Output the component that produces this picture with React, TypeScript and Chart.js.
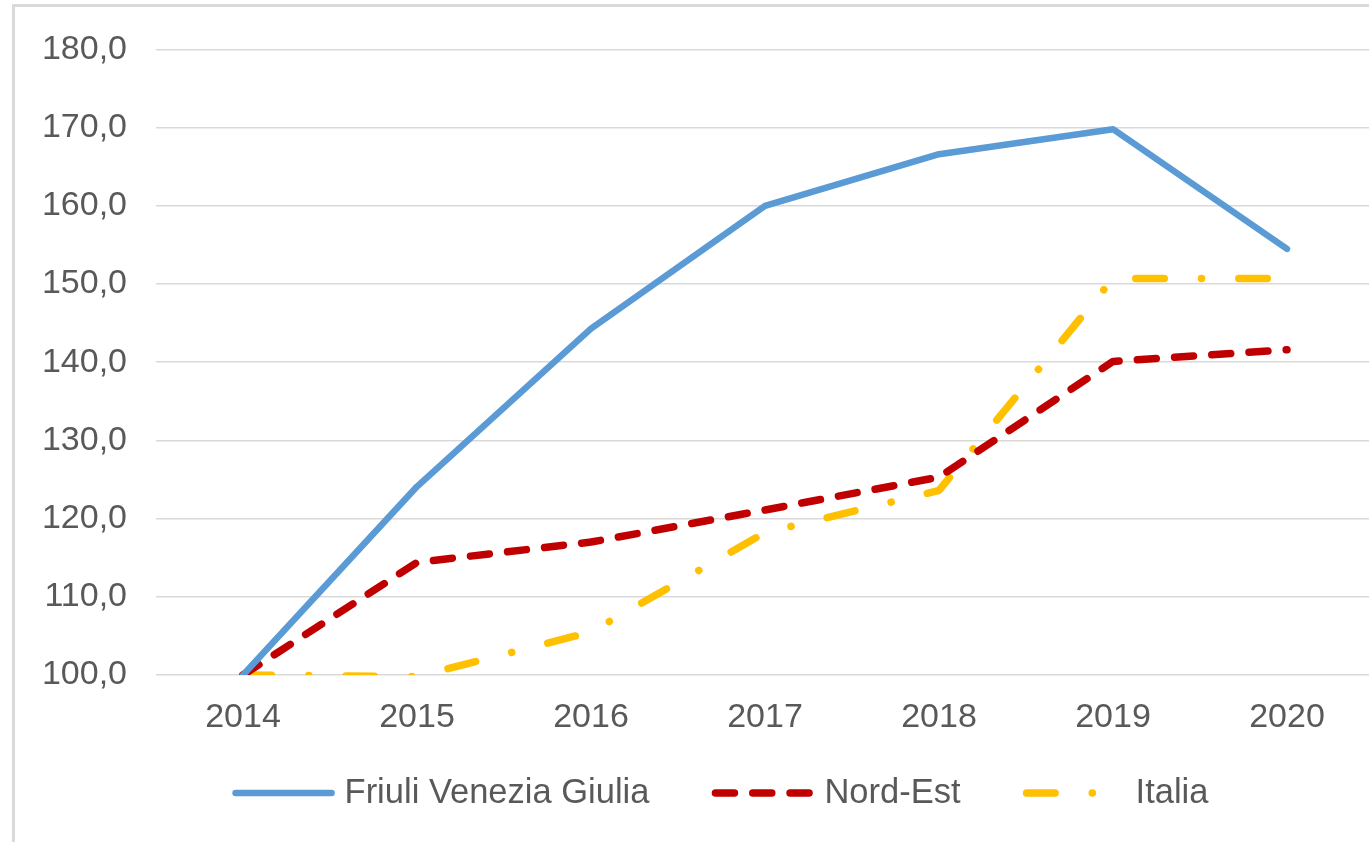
import React, { useEffect, useRef } from "react";
import { Chart, registerables } from "chart.js";

Chart.register(...registerables);

const years = ["2014", "2015", "2016", "2017", "2018", "2019", "2020"];
const friuliVG = [100, 124.1, 144.3, 160.0, 166.6, 169.8, 154.5];
const nordEst = [100, 114.4, 117.0, 121.1, 125.3, 140.1, 141.6];
const italia = [100, 99.8, 105.5, 118.2, 123.6, 150.7, 150.7];
const seriesNames = ["Friuli Venezia Giulia", "Nord-Est", "Italia"];
const yMin = 100;
const yMax = 180;
const yStep = 10;

const FONT = "'Liberation Sans', Arial, sans-serif";
const TEXT = "#595959";
const GRID = "#d9d9d9";

// Custom legend drawn with each dataset's own line style (dashes shown in swatch)
const lineLegend = {
  id: "lineLegend",
  afterDraw(chart: any, _args: any, opts: any) {
    const ctx = chart.ctx as CanvasRenderingContext2D;
    const sw = opts.swatchWidth as number;
    const gapText = opts.textGap as number;
    const gapItem = opts.itemGap as number;
    ctx.save();
    ctx.font = `${opts.fontSize}px ${FONT}`;
    const items = chart.data.datasets.map((ds: any) => ({
      ds,
      w: sw + gapText + ctx.measureText(ds.label).width,
    }));
    const total =
      items.reduce((a: number, it: any) => a + it.w, 0) + gapItem * (items.length - 1);
    let x = opts.centerX - total / 2;
    const y = opts.y;
    for (const it of items) {
      const ds = it.ds;
      ctx.beginPath();
      ctx.lineWidth = ds.borderWidth;
      ctx.strokeStyle = ds.borderColor;
      ctx.lineCap = "round";
      ctx.setLineDash(ds.borderDash || []);
      ctx.moveTo(x, y);
      ctx.lineTo(x + sw, y);
      ctx.stroke();
      ctx.setLineDash([]);
      ctx.fillStyle = TEXT;
      ctx.textBaseline = "middle";
      ctx.textAlign = "left";
      ctx.fillText(ds.label, x + sw + gapText, y);
      x += it.w + gapItem;
    }
    ctx.restore();
  },
};

export default function App() {
  const ref = useRef<HTMLCanvasElement | null>(null);

  useEffect(() => {
    if (!ref.current) return;
    const chart = new Chart(ref.current, {
      type: "line",
      data: {
        labels: years,
        datasets: [
          {
            label: seriesNames[0],
            data: friuliVG,
            borderColor: "#5B9BD5",
            backgroundColor: "#5B9BD5",
            borderWidth: 6.5,
            borderCapStyle: "round",
            borderJoinStyle: "round",
            pointRadius: 0,
            tension: 0,
          },
          {
            label: seriesNames[1],
            data: nordEst,
            borderColor: "#C00000",
            backgroundColor: "#C00000",
            borderWidth: 7.5,
            borderDash: [19, 18.3],
            borderCapStyle: "round",
            borderJoinStyle: "round",
            pointRadius: 0,
            tension: 0,
          },
          {
            label: seriesNames[2],
            data: italia,
            borderColor: "#FFC000",
            backgroundColor: "#FFC000",
            borderWidth: 7.5,
            borderDash: [28.5, 37.2, 0.1, 37.2],
            borderCapStyle: "round",
            borderJoinStyle: "round",
            pointRadius: 0,
            tension: 0,
          },
        ],
      },
      plugins: [lineLegend],
      options: {
        animation: false,
        responsive: false,
        devicePixelRatio: 1,
        layout: { padding: { top: 47, left: 0, right: 6, bottom: 92 } },
        plugins: {
          tooltip: { enabled: false },
          legend: { display: false },
          lineLegend: {
            swatchWidth: 96,
            textGap: 13,
            itemGap: 66,
            fontSize: 34.5,
            centerX: 722,
            y: 793,
          },
        } as any,
        scales: {
          x: {
            type: "category",
            offset: true,
            grid: { display: false, drawTicks: false },
            border: { display: false },
            ticks: {
              color: TEXT,
              font: { family: FONT, size: 34 },
              padding: 22,
              maxRotation: 0,
              autoSkip: false,
            },
            afterFit: (s: any) => {
              s.height = 75;
            },
          },
          y: {
            min: yMin,
            max: yMax,
            grid: { color: GRID, lineWidth: 1.5, drawTicks: false },
            border: { display: false },
            ticks: {
              stepSize: yStep,
              color: TEXT,
              font: { family: FONT, size: 34 },
              padding: 29,
              callback: (v: any) => Number(v).toFixed(1).replace(".", ","),
            },
            afterFit: (s: any) => {
              s.width = 156;
            },
          },
        },
      },
    });
    return () => chart.destroy();
  }, []);

  return (
    <div
      style={{
        position: "fixed",
        left: 0,
        top: 0,
        width: 1369,
        height: 842,
        overflow: "hidden",
        background: "#ffffff",
      }}
    >
      <div
        style={{
          position: "absolute",
          left: 12,
          top: 4,
          width: 1450,
          height: 950,
          border: "3px solid #dadada",
          boxSizing: "border-box",
        }}
      />
      <canvas
        ref={ref}
        width={1380}
        height={842}
        style={{ position: "absolute", left: 0, top: 0, width: 1380, height: 842 }}
      />
    </div>
  );
}
